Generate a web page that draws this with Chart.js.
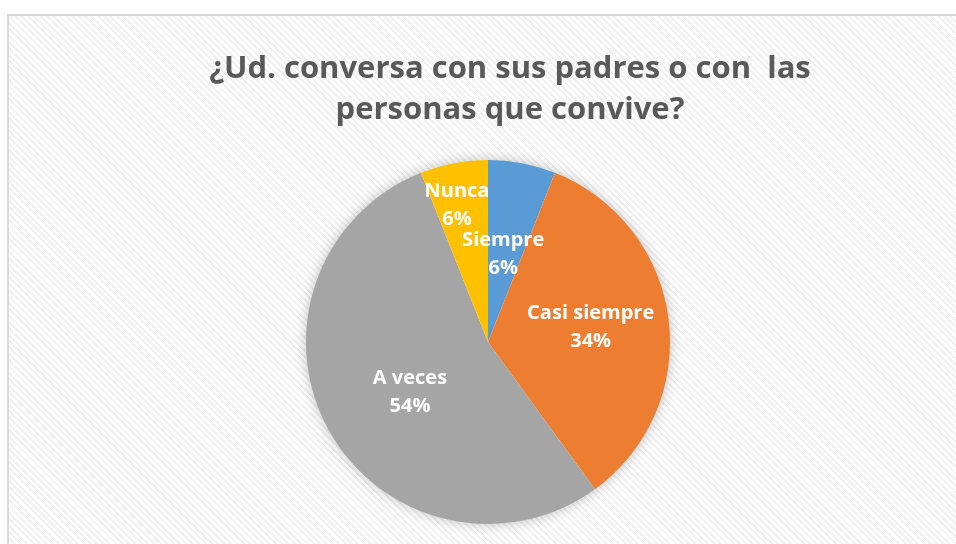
<!DOCTYPE html>
<html>
<head>
<meta charset="utf-8">
<script src="https://cdn.jsdelivr.net/npm/chart.js@4.4.1/dist/chart.umd.min.js"></script>
<style>
  html, body { margin: 0; padding: 0; background: #fff; overflow: hidden; }
  #frame {
    position: absolute; left: 7px; top: 14px; width: 960px; height: 540px;
    border: 2px solid #d9d9d9;
    background: repeating-linear-gradient(45deg, #ffffff 0px, #ffffff 2.5px, #f0f0f0 2.5px, #f0f0f0 4.5px);
  }
  #wrap { position: absolute; left: 0; top: 0; width: 956px; height: 544px; }
</style>
</head>
<body>
<div id="frame"></div>
<div id="wrap"><canvas id="pie-chart"></canvas></div>
<script>
const categories = ['Siempre', 'Casi siempre', 'A veces', 'Nunca'];
const values = [6, 34, 54, 6];
const colors = ['#5b9bd5', '#ed7d31', '#a5a5a5', '#ffc000'];
const titleLines = ['¿Ud. conversa con sus padres o con  las', 'personas que convive?'];

// donde va cada etiqueta: fraccion del radio y ajuste de angulo (grados)
const labelSpots = [
    { r: 0.49, da: -1 },
    { r: 0.57, da: -1 },
    { r: 0.51, da: -4 },
    { r: 0.77, da: -2 }
];

const piePlugin = {
    id: 'piePlugin',
    beforeDatasetsDraw(chart) {
        // sombra suave detras del pastel
        const arc = chart.getDatasetMeta(0).data[0];
        const ctx = chart.ctx;
        ctx.save();
        ctx.shadowColor = 'rgba(0,0,0,0.28)';
        ctx.shadowBlur = 14;
        ctx.fillStyle = '#ffffff';
        ctx.beginPath();
        ctx.arc(arc.x, arc.y, arc.outerRadius - 1, 0, Math.PI * 2);
        ctx.fill();
        ctx.restore();
    },
    afterDraw(chart) {
        const ctx = chart.ctx;
        const meta = chart.getDatasetMeta(0);
        const total = values.reduce((a, b) => a + b, 0);

        ctx.save();
        ctx.textAlign = 'center';
        ctx.textBaseline = 'middle';

        // titulo
        ctx.fillStyle = '#595959';
        ctx.font = 'bold 31px "Open Sans"';
        titleLines.forEach((t, i) => ctx.fillText(t, 510, 69 + i * 41));

        // etiquetas de las porciones
        ctx.fillStyle = '#ffffff';
        ctx.font = 'bold 20px "Open Sans"';
        meta.data.forEach((el, i) => {
            const spot = labelSpots[i];
            const mid = (el.startAngle + el.endAngle) / 2 + spot.da * Math.PI / 180;
            const r = el.outerRadius * spot.r;
            const x = el.x + Math.cos(mid) * r;
            const y = el.y + Math.sin(mid) * r;
            const pct = Math.round(values[i] / total * 100) + '%';
            ctx.fillText(categories[i], x, y - 14);
            ctx.fillText(pct, x, y + 14);
        });
        ctx.restore();
    }
};

new Chart(document.getElementById('pie-chart'), {
    type: 'pie',
    data: {
        labels: categories,
        datasets: [{
            data: values,
            backgroundColor: colors,
            borderWidth: 0
        }]
    },
    options: {
        responsive: true,
        maintainAspectRatio: false,
        animation: false,
        layout: { padding: { top: 160, bottom: 20, left: 20, right: 0 } },
        plugins: {
            legend: { display: false },
            tooltip: { enabled: false },
            title: { display: false }
        }
    },
    plugins: [piePlugin]
});
</script>
</body>
</html>
